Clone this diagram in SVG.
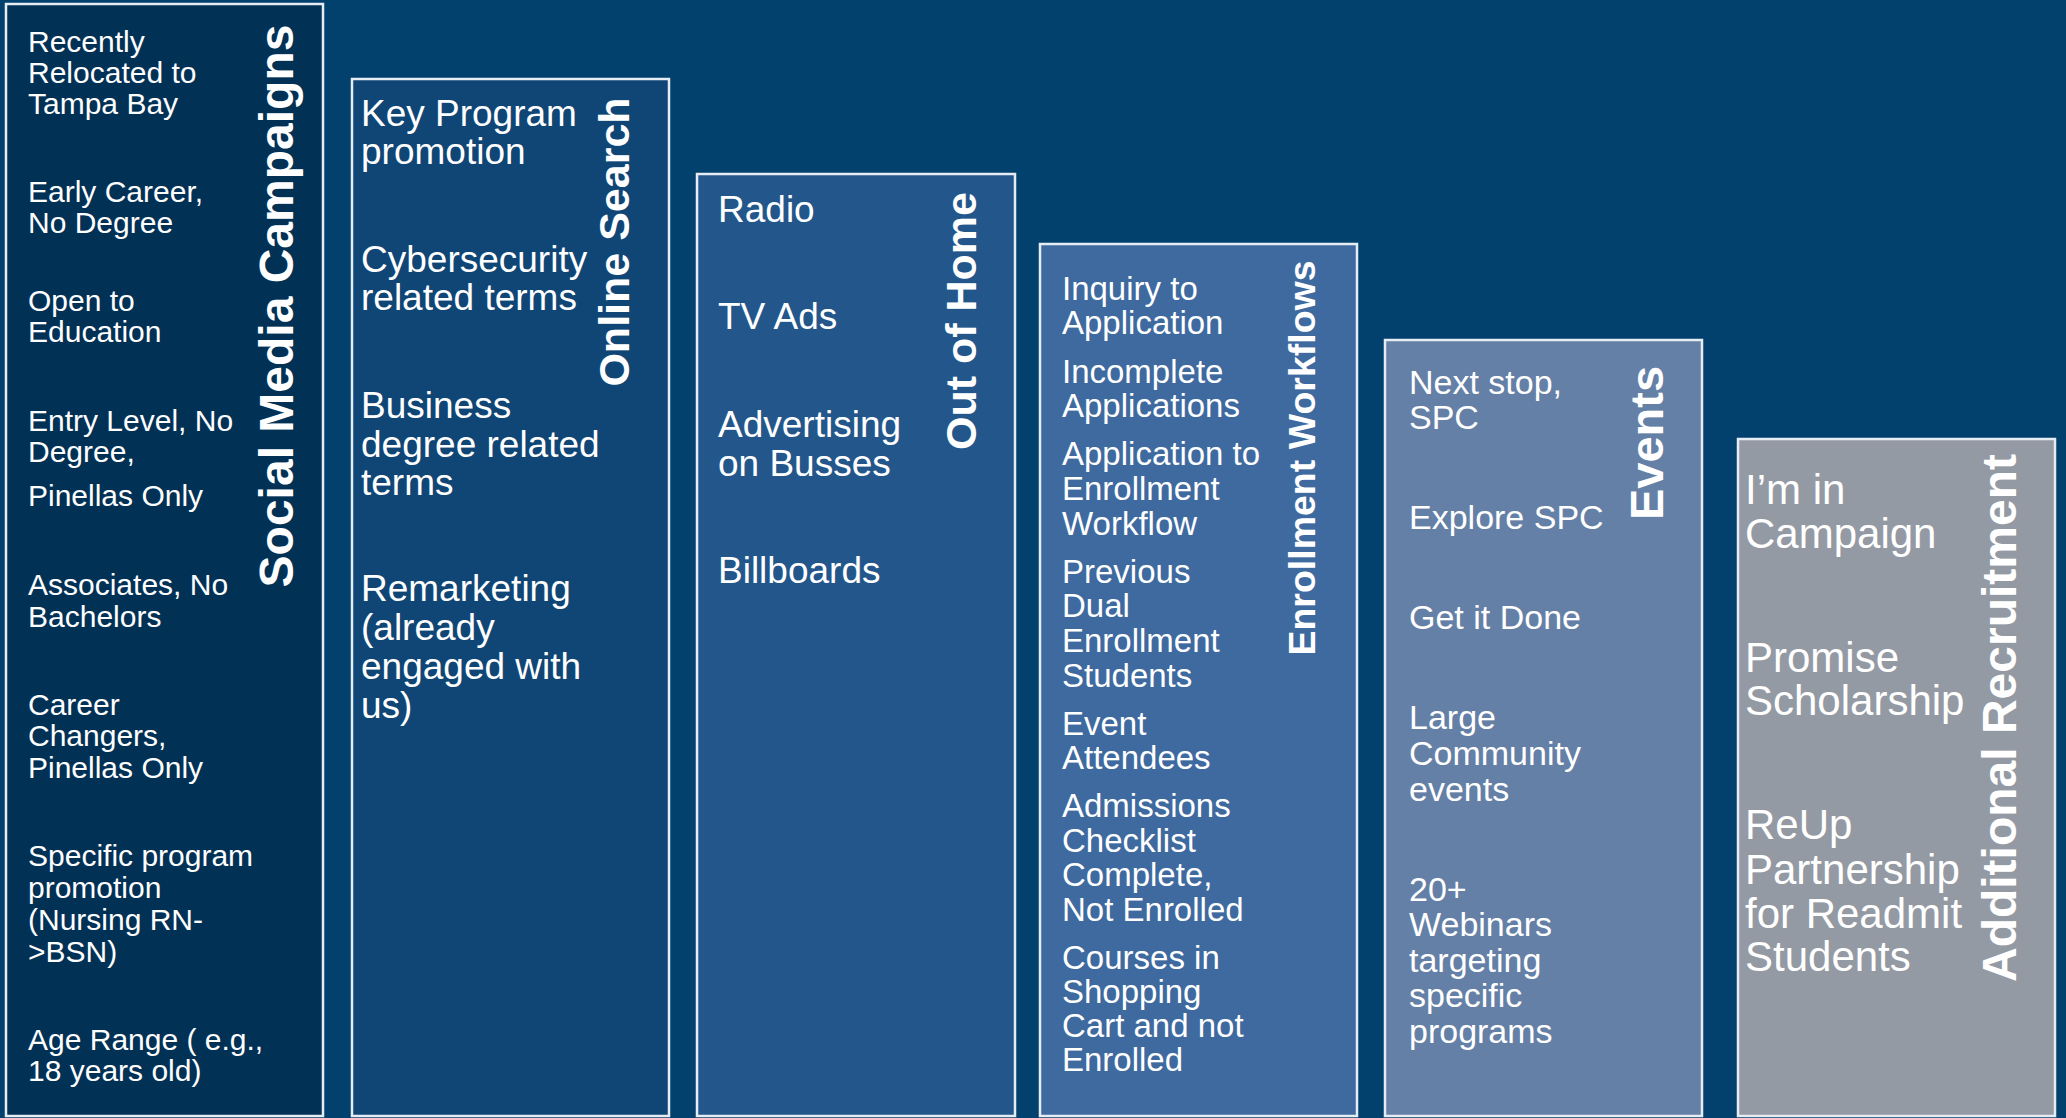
<svg xmlns="http://www.w3.org/2000/svg" width="2066" height="1118" viewBox="0 0 2066 1118">
<style>
.box{stroke:#E6ECF3;stroke-width:2.5}
.item{font-family:"Liberation Sans",Arial,sans-serif;fill:#FFFFFF}
.title{font-family:"Liberation Sans",Arial,sans-serif;font-weight:bold;fill:#FFFFFF;text-anchor:middle}
</style>
<rect x="0" y="0" width="2066" height="1118" fill="#02416E"/>
<g id="connectors"></g>
<g id="social-media-campaigns">
<rect class="box" x="6" y="4" width="317" height="1112" fill="#023156"/>
<g class="item" font-size="30">
<text x="28" y="52">Recently</text>
<text x="28" y="83">Relocated to</text>
<text x="28" y="114">Tampa Bay</text>
<text x="28" y="202">Early Career,</text>
<text x="28" y="233">No Degree</text>
<text x="28" y="311">Open to</text>
<text x="28" y="342">Education</text>
<text x="28" y="431">Entry Level, No</text>
<text x="28" y="462">Degree,</text>
<text x="28" y="506">Pinellas Only</text>
<text x="28" y="595">Associates, No</text>
<text x="28" y="627">Bachelors</text>
<text x="28" y="715">Career</text>
<text x="28" y="746">Changers,</text>
<text x="28" y="778">Pinellas Only</text>
<text x="28" y="866">Specific program</text>
<text x="28" y="898">promotion</text>
<text x="28" y="930">(Nursing RN-</text>
<text x="28" y="962">&gt;BSN)</text>
<text x="28" y="1050">Age Range ( e.g.,</text>
<text x="28" y="1081">18 years old)</text>
</g>
<text class="title" font-size="48" transform="translate(293,306) rotate(-90)">Social Media Campaigns</text>
</g>
<g id="online-search">
<rect class="box" x="352" y="79" width="317" height="1037" fill="#104676"/>
<g class="item" font-size="37">
<text x="361" y="126">Key Program</text>
<text x="361" y="164">promotion</text>
<text x="361" y="272">Cybersecurity</text>
<text x="361" y="310">related terms</text>
<text x="361" y="418">Business</text>
<text x="361" y="457">degree related</text>
<text x="361" y="495">terms</text>
<text x="361" y="601">Remarketing</text>
<text x="361" y="640">(already</text>
<text x="361" y="679">engaged with</text>
<text x="361" y="718">us)</text>
</g>
<text class="title" font-size="43" transform="translate(629,242) rotate(-90)">Online Search</text>
</g>
<g id="out-of-home">
<rect class="box" x="697" y="174" width="318" height="942" fill="#23578C"/>
<g class="item" font-size="37">
<text x="718" y="222">Radio</text>
<text x="718" y="329">TV Ads</text>
<text x="718" y="437">Advertising</text>
<text x="718" y="476">on Busses</text>
<text x="718" y="583">Billboards</text>
</g>
<text class="title" font-size="43" transform="translate(976,321) rotate(-90)">Out of Home</text>
</g>
<g id="enrollment-workflows">
<rect class="box" x="1040" y="244" width="317" height="872" fill="#3E6A9F"/>
<g class="item" font-size="33">
<text x="1062" y="300">Inquiry to</text>
<text x="1062" y="334">Application</text>
<text x="1062" y="383">Incomplete</text>
<text x="1062" y="417">Applications</text>
<text x="1062" y="465">Application to</text>
<text x="1062" y="500">Enrollment</text>
<text x="1062" y="535">Workflow</text>
<text x="1062" y="583">Previous</text>
<text x="1062" y="617">Dual</text>
<text x="1062" y="652">Enrollment</text>
<text x="1062" y="687">Students</text>
<text x="1062" y="735">Event</text>
<text x="1062" y="769">Attendees</text>
<text x="1062" y="817">Admissions</text>
<text x="1062" y="852">Checklist</text>
<text x="1062" y="886">Complete,</text>
<text x="1062" y="921">Not Enrolled</text>
<text x="1062" y="969">Courses in</text>
<text x="1062" y="1003">Shopping</text>
<text x="1062" y="1037">Cart and not</text>
<text x="1062" y="1071">Enrolled</text>
</g>
<text class="title" font-size="37.5" transform="translate(1315,458) rotate(-90)">Enrollment Workflows</text>
</g>
<g id="events">
<rect class="box" x="1385" y="340" width="317" height="776" fill="#6580A6"/>
<g class="item" font-size="34">
<text x="1409" y="394">Next stop,</text>
<text x="1409" y="429">SPC</text>
<text x="1409" y="529">Explore SPC</text>
<text x="1409" y="629">Get it Done</text>
<text x="1409" y="729">Large</text>
<text x="1409" y="765">Community</text>
<text x="1409" y="801">events</text>
<text x="1409" y="901">20+</text>
<text x="1409" y="936">Webinars</text>
<text x="1409" y="972">targeting</text>
<text x="1409" y="1007">specific</text>
<text x="1409" y="1043">programs</text>
</g>
<text class="title" font-size="47" transform="translate(1663,443) rotate(-90)">Events</text>
</g>
<g id="additional-recruitment">
<rect class="box" x="1738" y="439" width="317" height="677" fill="#949AA4"/>
<g class="item" font-size="42">
<text x="1745" y="504">I’m in</text>
<text x="1745" y="548">Campaign</text>
<text x="1745" y="672">Promise</text>
<text x="1745" y="715">Scholarship</text>
<text x="1745" y="839">ReUp</text>
<text x="1745" y="884">Partnership</text>
<text x="1745" y="928">for Readmit</text>
<text x="1745" y="971">Students</text>
</g>
<text class="title" font-size="48" transform="translate(2016,718) rotate(-90)">Additional Recruitment</text>
</g>
</svg>
